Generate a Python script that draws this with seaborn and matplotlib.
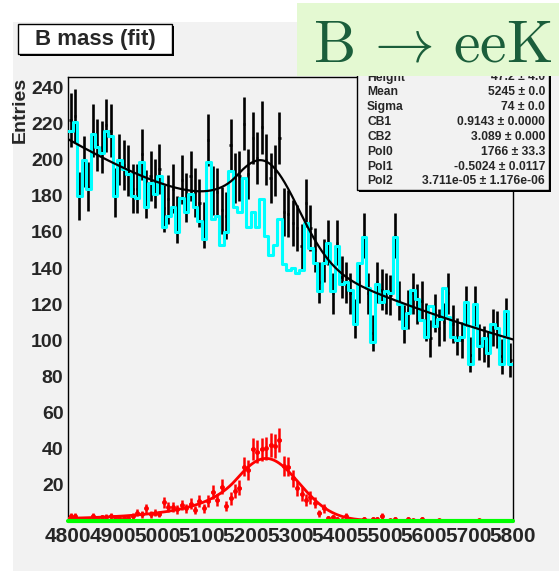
import numpy as np
import pandas as pd
import seaborn as sns
import matplotlib.pyplot as plt
from matplotlib.patches import Rectangle
from matplotlib.ticker import MultipleLocator

# 100 bins of 10 MeV, 4800 - 5800
edges = np.arange(4800, 5801, 10)
centers = edges[:-1] + 5

# data (black points)
data_counts = [222, 224, 180, 199, 185, 216, 208, 207, 219, 216,
               182, 200, 197, 194, 184, 184, 203, 181, 191, 187,
               195, 173, 178, 184, 167, 189, 179, 191, 182, 176,
               164, 211, 183, 182, 172, 169, 208, 190, 191, 220,
               192, 212, 201, 218, 200, 190, 194, 212, 171, 170,
               165, 162, 152, 176, 162, 150, 132, 144, 154, 126,
               154, 135, 132, 126, 112, 132, 158, 126, 104, 132,
               128, 126, 125, 158, 122, 109, 117, 126, 120, 122,
               110, 101, 115, 107, 110, 126, 109, 102, 100, 119,
               92, 119, 99, 98, 95, 107, 106, 91, 113, 89]

# cyan histogram
mc_counts = [216, 221, 180, 200, 184, 214, 207, 204, 216, 213,
             180, 200, 195, 192, 180, 179, 199, 174, 187, 181,
             191, 163, 169, 174, 160, 179, 171, 181, 174, 166,
             156, 199, 167, 169, 153, 160, 194, 174, 171, 190,
             163, 171, 163, 178, 158, 147, 153, 167, 142, 139,
             140, 137, 139, 165, 151, 143, 127, 143, 154, 127,
             152, 131, 132, 128, 109, 143, 157, 129, 99, 131,
             121, 127, 126, 157, 120, 107, 115, 128, 123, 111,
             102, 119, 108, 112, 129, 113, 102, 100, 102, 121,
             87, 120, 97, 101, 93, 109, 107, 87, 116, 87]

# red points (signal)
signal_counts = [2.8, 2.6, 1.0, 0.5, 0.8, 2.6, 1.3, 1.9, 2.2, 2.6,
                 1.9, 1.3, 1.7, 1.7, 2.6, 4.5, 3.5, 6.9, 3.5, 4.5,
                 3.7, 10.2, 7.4, 7.8, 6.3, 8.7, 6.9, 9.3, 5.9, 11.1,
                 6.9, 10.9, 16.0, 11.5, 18.9, 8.2, 12.4, 16.5, 18.3, 30.0,
                 28.1, 39.7, 38.3, 39.5, 40.1, 42.0, 41.4, 44.7, 30.3, 30.0,
                 23.5, 17.9, 14.8, 11.5, 13.0, 10.0, 4.1, 6.9, 1.3, 1.9,
                 1.0, 0.4, 2.6, 0, 0, 0, 1.0, 0, 1.1, 1.1,
                 2.6, 0, 0.4, 1.1, 0, 0, 1.1, 0.4, 0, 1.1,
                 0, 0, 0, 0.4, 0, 0, 0, 0, 0, 0,
                 0, 0, 0.4, 0, 0, 0, 0, 0, 0, 0]

# fit parameters shown in the stats box
fit_height = 47.2
fit_mean = 5245
fit_sigma = 74
fit_cb1 = 0.9143
fit_cb2 = 3.089
fit_pol0 = 1766
fit_pol1 = -0.5024
fit_pol2 = 3.711e-05
signal_height = 34.5

stats_names = ["Height", "Mean", "Sigma", "CB1", "CB2", "Pol0", "Pol1", "Pol2"]
stats_values = ["47.2 \u00b1 4.0", "5245 \u00b1 0.0", "74 \u00b1 0.0",
                "0.9143 \u00b1 0.0000", "3.089 \u00b1 0.000", "1766 \u00b1 33.3",
                "-0.5024 \u00b1 0.0117", "3.711e-05 \u00b1 1.176e-06"]


def crystal_ball(x, mean, sigma, alpha, n):
    t = (x - mean) / sigma
    a = (n / alpha) ** n * np.exp(-alpha ** 2 / 2)
    b = n / alpha - alpha
    tail = a * np.clip(b - t, 1e-6, None) ** (-n)
    return np.where(t > -alpha, np.exp(-t ** 2 / 2), tail)


sns.set_style("white")
plt.rcParams['font.family'] = ['Liberation Sans', 'DejaVu Sans']
plt.rcParams['font.weight'] = 'bold'
plt.rcParams['mathtext.fontset'] = 'cm'

W, H = 559, 571
fig = plt.figure(figsize=(W / 100, H / 100), dpi=100)
fig.patch.set_facecolor('white')


def fx(px):
    return px / W


def fy(py):
    return 1 - py / H


grey = '#f2f2f2'
fig.add_artist(Rectangle((fx(13), 0), 1 - fx(13), fy(22), transform=fig.transFigure,
                         facecolor=grey, edgecolor='none', zorder=-1))

ax = fig.add_axes([fx(68.3), fy(520.7), fx(512.7) - fx(68.3), fy(76.7) - fy(520.7)])
ax.set_facecolor(grey)

data = np.array(data_counts, dtype=float)
ax.errorbar(centers, data, yerr=np.sqrt(data), xerr=2.5, fmt='none',
            ecolor='black', elinewidth=1.9, zorder=2)

mc_df = pd.DataFrame({'mass': centers, 'count': mc_counts})
sns.histplot(data=mc_df, x='mass', weights='count', bins=list(edges), element='step',
             fill=False, color='cyan', linewidth=2.2, ax=ax, zorder=3)

xs = np.linspace(4800, 5800, 800)
cb = crystal_ball(xs, fit_mean, fit_sigma, fit_cb1, fit_cb2)
total = fit_height * cb + fit_pol0 + fit_pol1 * xs + fit_pol2 * xs ** 2
sns.lineplot(x=xs, y=total, color='black', linewidth=1.6, ax=ax, zorder=4)

sig = np.array(signal_counts, dtype=float)
m = sig > 0
ax.errorbar(centers[m], sig[m], yerr=np.sqrt(sig[m]), xerr=3, fmt='o', ms=2.5,
            color='red', ecolor='red', elinewidth=1.8, zorder=5)
sns.lineplot(x=xs, y=signal_height * cb, color='red', linewidth=2, ax=ax, zorder=5)

ax.axhline(0, color='#00ff00', linewidth=3, clip_on=False, zorder=6)

ax.set_xlim(4800, 5800)
ax.set_ylim(0, 246)
ax.set_xticks(np.arange(4800, 5801, 100))
ax.set_yticks(np.arange(20, 241, 20))
ax.xaxis.set_minor_locator(MultipleLocator(20))
ax.yaxis.set_minor_locator(MultipleLocator(5))
ax.tick_params(which='major', direction='in', length=9, width=1,
               top=False, right=False, color='black')
ax.tick_params(which='minor', direction='in', length=4, width=1,
               top=False, right=False, color='black')
ax.tick_params(axis='y', pad=3.5, labelsize=14)
ax.tick_params(axis='x', pad=4.5, labelsize=15)
ax.set_xlabel('')
ax.set_ylabel('')
for s in ax.spines.values():
    s.set_color('black')
    s.set_linewidth(1)

fig.text(fx(20.5), fy(76.7), 'Entries', rotation=90, ha='center', va='top',
         fontsize=14, fontweight='bold')

# title box
fig.add_artist(Rectangle((fx(20), fy(56)), fx(172) - fx(18), fy(24) - fy(54),
                         transform=fig.transFigure, facecolor='black', edgecolor='none', zorder=7))
fig.add_artist(Rectangle((fx(18), fy(54)), fx(172) - fx(18), fy(24) - fy(54),
                         transform=fig.transFigure, facecolor='white', edgecolor='black',
                         linewidth=1, zorder=7))
fig.text(fx(95), fy(39.5), 'B mass (fit)', ha='center', va='center', fontsize=16,
         fontweight='bold', zorder=8)

# stats box (top rows sit under the green label, as in the original)
fig.add_artist(Rectangle((fx(359), fy(192)), fx(549) - fx(357), fy(40) - fy(190),
                         transform=fig.transFigure, facecolor='black', edgecolor='none', zorder=7))
fig.add_artist(Rectangle((fx(357), fy(190)), fx(549) - fx(357), fy(40) - fy(190),
                         transform=fig.transFigure, facecolor=grey, edgecolor='black',
                         linewidth=1, zorder=7))
for i, (name, val) in enumerate(zip(stats_names, stats_values)):
    yy = fy(77.5 + 14.85 * i)
    fig.text(fx(367), yy, name, ha='left', va='center', fontsize=8.7, fontweight='bold', zorder=8)
    fig.text(fx(545), yy, val, ha='right', va='center', fontsize=8.7, fontweight='bold', zorder=8)

# green label box
fig.add_artist(Rectangle((fx(297), fy(76)), 1 - fx(297), fy(3) - fy(76),
                         transform=fig.transFigure, facecolor='#e4f9d2', edgecolor='none', zorder=9))
fig.text(fx(433), fy(62), r'$\mathrm{B}\,\rightarrow\,\mathrm{eeK}$', ha='center', va='baseline',
         fontsize=43, color='#1b5e3b', zorder=10)

fig.savefig('out.png', dpi=100)
